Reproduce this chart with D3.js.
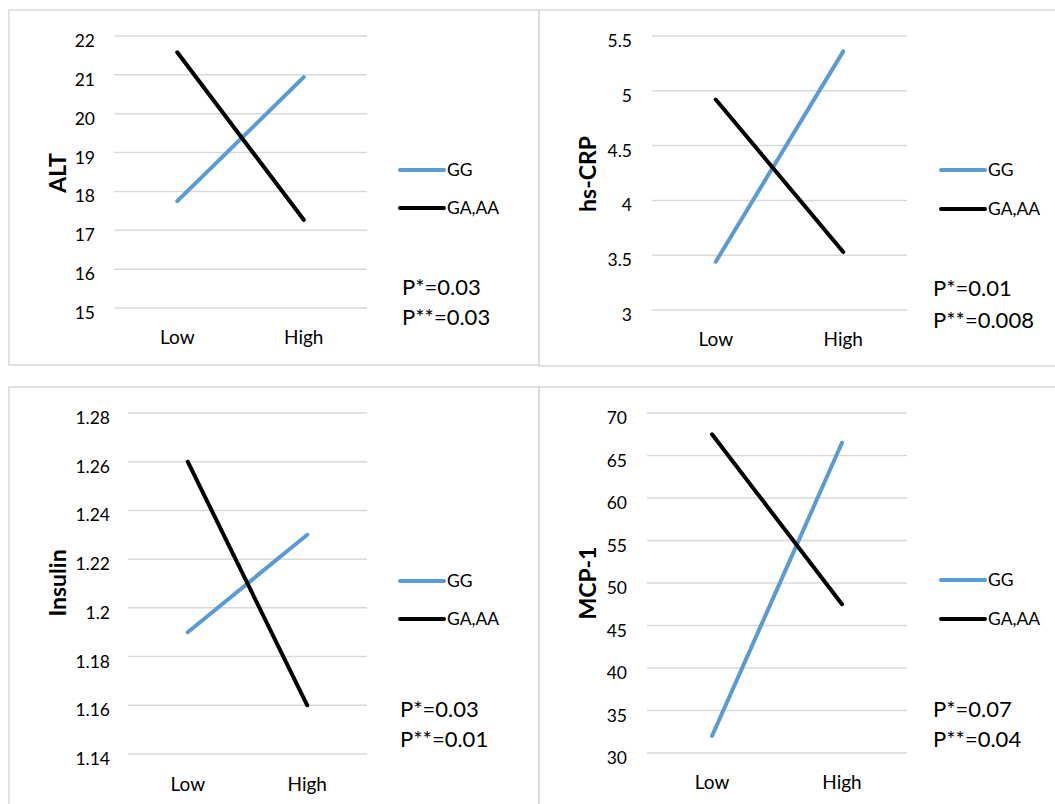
<!DOCTYPE html>
<html>
<head>
<meta charset="utf-8">
<script src="https://cdn.jsdelivr.net/npm/d3@7"></script>
<style>
  body { margin: 0; background: #fff; }
  svg { display: block; font-family: Lato, "Open Sans", sans-serif; }
</style>
</head>
<body>
<svg id="chart" width="1055" height="804"></svg>
<script>
// data
const categories = ['Low', 'High'];
const seriesNames = ['GG', 'GA,AA'];

const altGG = [17.75, 20.94];
const altGA = [21.58, 17.27];
const altTicks = [15, 16, 17, 18, 19, 20, 21, 22];

const crpGG = [3.44, 5.36];
const crpGA = [4.92, 3.53];
const crpTicks = [3, 3.5, 4, 4.5, 5, 5.5];

const insGG = [1.19, 1.23];
const insGA = [1.26, 1.16];
const insTicks = [1.14, 1.16, 1.18, 1.2, 1.22, 1.24, 1.26, 1.28];

const mcpGG = [32, 66.5];
const mcpGA = [67.5, 47.5];
const mcpTicks = [30, 35, 40, 45, 50, 55, 60, 65, 70];

const titles = ['ALT', 'hs-CRP', 'Insulin', 'MCP-1'];
const pStar = ['P*=0.03', 'P*=0.01', 'P*=0.03', 'P*=0.07'];
const pStar2 = ['P**=0.03', 'P**=0.008', 'P**=0.01', 'P**=0.04'];

const colors = ['#5b9bd5', '#000000'];

// panel layout (pixels)
const panels = [
  { frame: [9, 10, 530, 355], plot: [114, 36, 367, 308], tickX: 95, catY: 344, titleX: 65, titleY: 173,
    legX: 400, legY: [170, 208], pX: 402, pY: [295, 325],
    gg: altGG, ga: altGA, ticks: altTicks },
  { frame: [539, 10, 530, 356], plot: [652, 36, 907, 310], tickX: 632, catY: 346, titleX: 595, titleY: 174,
    legX: 941, legY: [170, 209], pX: 933, pY: [296, 328],
    gg: crpGG, ga: crpGA, ticks: crpTicks },
  { frame: [9, 387, 530, 440], plot: [128, 413, 367, 754], tickX: 110, catY: 791, titleX: 65, titleY: 583,
    legX: 400, legY: [581, 619], pX: 400, pY: [717, 747],
    gg: insGG, ga: insGA, ticks: insTicks },
  { frame: [539, 387, 530, 440], plot: [647, 413, 907, 753], tickX: 627, catY: 789, titleX: 595, titleY: 583,
    legX: 941, legY: [580, 619], pX: 933, pY: [717, 747],
    gg: mcpGG, ga: mcpGA, ticks: mcpTicks }
];

const svg = d3.select('#chart');

panels.forEach((p, i) => {
  const g = svg.append('g');

  g.append('rect')
    .attr('x', p.frame[0]).attr('y', p.frame[1])
    .attr('width', p.frame[2]).attr('height', p.frame[3])
    .attr('fill', 'none')
    .attr('stroke', '#d9d9d9')
    .attr('stroke-width', 1.5);

  const x = d3.scalePoint()
    .domain(categories)
    .range([p.plot[0], p.plot[2]])
    .padding(0.5);

  const y = d3.scaleLinear()
    .domain(d3.extent(p.ticks))
    .range([p.plot[3], p.plot[1]]);

  // gridlines
  g.selectAll('.grid')
    .data(p.ticks)
    .enter()
    .append('line')
    .attr('x1', p.plot[0]).attr('x2', p.plot[2])
    .attr('y1', (d) => y(d)).attr('y2', (d) => y(d))
    .attr('stroke', '#d9d9d9')
    .attr('stroke-width', 1.5);

  // tick labels
  g.selectAll('.tick')
    .data(p.ticks)
    .enter()
    .append('text')
    .attr('x', p.tickX)
    .attr('y', (d) => y(d) + 11)
    .attr('text-anchor', 'end')
    .attr('font-size', 17.5)
    .attr('fill', '#000')
    .text((d) => String(d));

  // category labels
  g.selectAll('.cat')
    .data(categories)
    .enter()
    .append('text')
    .attr('x', (d) => x(d))
    .attr('y', p.catY)
    .attr('text-anchor', 'middle')
    .attr('font-size', 19)
    .text((d) => d);

  // axis title
  g.append('text')
    .attr('transform', `translate(${p.titleX + 1},${p.titleY}) rotate(-90)`)
    .attr('text-anchor', 'middle')
    .attr('font-size', 23)
    .attr('font-weight', 'bold')
    .text(titles[i]);

  // series lines
  const line = d3.line()
    .x((d, j) => x(categories[j]))
    .y((d) => y(d));

  [p.gg, p.ga].forEach((vals, s) => {
    g.append('path')
      .datum(vals)
      .attr('d', line)
      .attr('fill', 'none')
      .attr('stroke', colors[s])
      .attr('stroke-width', 4)
      .attr('stroke-linecap', 'round');
  });

  // legend
  seriesNames.forEach((name, s) => {
    g.append('line')
      .attr('x1', p.legX).attr('x2', p.legX + 44)
      .attr('y1', p.legY[s]).attr('y2', p.legY[s])
      .attr('stroke', colors[s])
      .attr('stroke-width', 4)
      .attr('stroke-linecap', 'round');
    g.append('text')
      .attr('x', p.legX + 47)
      .attr('y', p.legY[s] + 6)
      .attr('font-size', 17.5)
      .text(name);
  });

  // p values
  [pStar[i], pStar2[i]].forEach((t, k) => {
    g.append('text')
      .attr('x', p.pX)
      .attr('y', p.pY[k])
      .attr('font-size', 22)
      .text(t);
  });
});
</script>
</body>
</html>
